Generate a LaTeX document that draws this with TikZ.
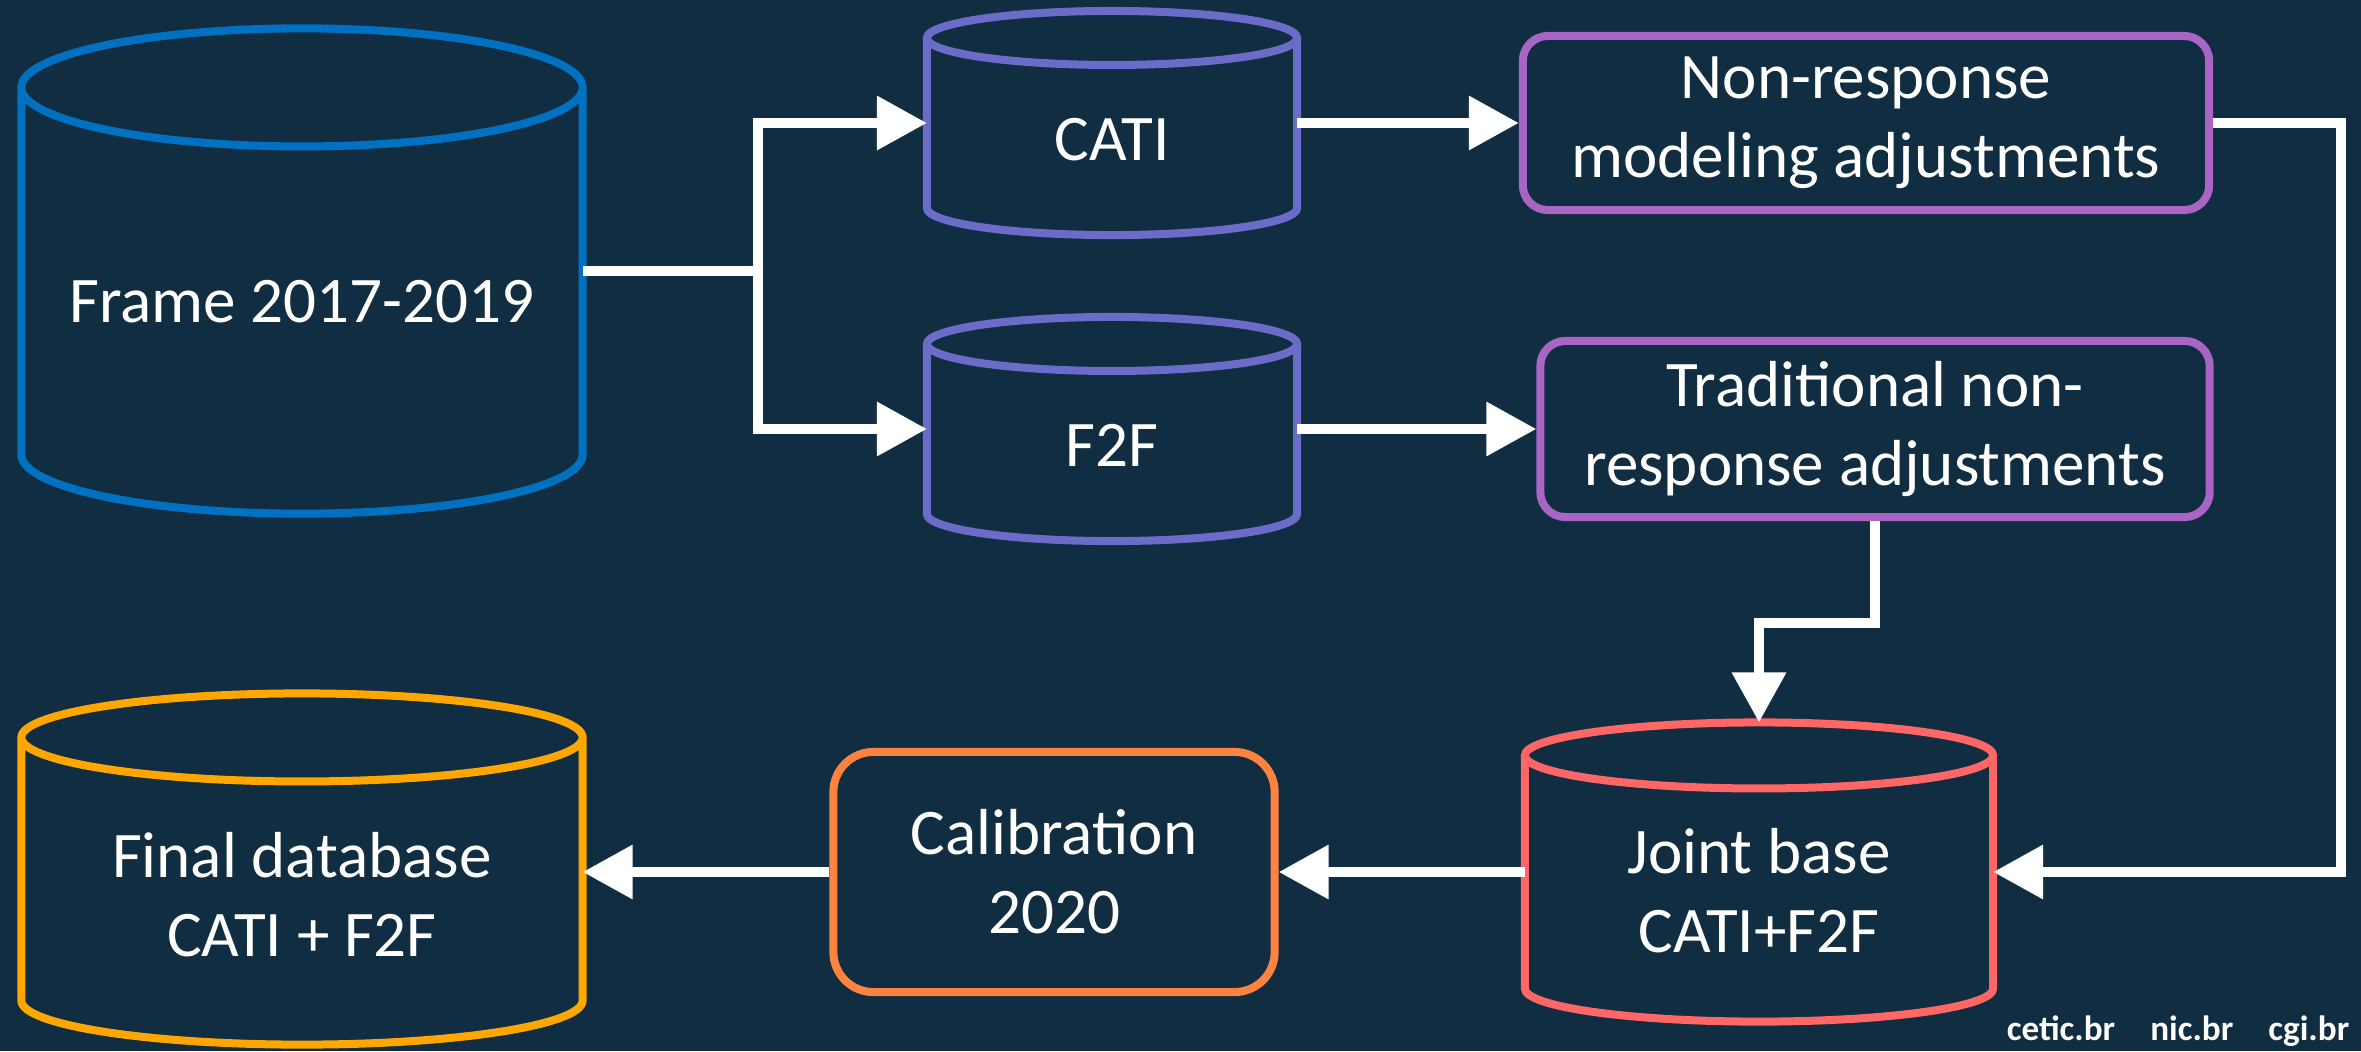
\documentclass[tikz,border=0pt]{standalone}
\usepackage{fontspec}
\setmainfont{Carlito}
\usetikzlibrary{shapes.geometric, arrows.meta, positioning, calc}
\definecolor{bgnavy}{HTML}{112D42}
\definecolor{frameblue}{HTML}{0070C0}
\definecolor{modeblue}{HTML}{6B6BC8}
\definecolor{adjpurple}{HTML}{A865C4}
\definecolor{jointred}{HTML}{FF6666}
\definecolor{calorange}{HTML}{FF8340}
\definecolor{finalamber}{HTML}{FFA600}

\begin{document}
\begin{tikzpicture}[x=0.01cm, y=-0.01cm,
    >={Triangle[length=0.5cm, width=0.52cm]},
    txt/.style={text=white, font=\fontsize{18.5}{22.5}\selectfont, align=center},
    dbbody/.style={rectangle, inner sep=0pt, outer sep=0pt},
    dbline/.style={line width=0.08cm},
    stepbox/.style={txt, rectangle, rounded corners=0.25cm, draw=#1, line width=0.08cm, inner sep=0pt},
    flow/.style={draw=white, line width=0.1cm}]
  \useasboundingbox (0,0) rectangle (2361,1051);
  \fill[bgnavy] (0,0) rectangle (2361,1051);

  % databases (body between the two end ellipses)
  \node[dbbody, minimum width=5.61cm, minimum height=3.67cm] (frame) at (302,271) {};
  \node[txt] (frametxt) at ([yshift=-0.31cm]frame.center) {Frame 2017-2019};
  \draw[dbline, frameblue] (frame.north) ellipse [x radius=2.805cm, y radius=0.59cm]
    (frame.north west) -- (frame.south west) arc [start angle=180, end angle=360, x radius=2.805cm, y radius=0.59cm] -- (frame.north east);

  \node[dbbody, minimum width=3.70cm, minimum height=1.70cm] (cati) at (1112,123) {};
  \node[txt] (catitxt) at ([yshift=-0.17cm]cati.center) {CATI};
  \draw[dbline, modeblue] (cati.north) ellipse [x radius=1.85cm, y radius=0.27cm]
    (cati.north west) -- (cati.south west) arc [start angle=180, end angle=360, x radius=1.85cm, y radius=0.27cm] -- (cati.north east);

  \node[dbbody, minimum width=3.70cm, minimum height=1.70cm] (f2f) at (1112,429) {};
  \node[txt] (f2ftxt) at ([yshift=-0.16cm]f2f.center) {F2F};
  \draw[dbline, modeblue] (f2f.north) ellipse [x radius=1.85cm, y radius=0.27cm]
    (f2f.north west) -- (f2f.south west) arc [start angle=180, end angle=360, x radius=1.85cm, y radius=0.27cm] -- (f2f.north east);

  \node[dbbody, minimum width=4.68cm, minimum height=2.33cm] (joint) at (1759,872) {};
  \node[txt] (jointtxt) at ([yshift=-0.19cm]joint.center) {Joint base\\CATI+F2F};
  \draw[dbline, jointred] (joint.north) ellipse [x radius=2.34cm, y radius=0.33cm]
    (joint.north west) -- (joint.south west) arc [start angle=180, end angle=360, x radius=2.34cm, y radius=0.33cm] -- (joint.north east);

  \node[dbbody, minimum width=5.61cm, minimum height=2.63cm] (final) at (302,869) {};
  \node[txt] (finaltxt) at ([yshift=-0.26cm]final.center) {Final database\\CATI + F2F};
  \draw[dbline, finalamber] (final.north) ellipse [x radius=2.805cm, y radius=0.44cm]
    (final.north west) -- (final.south west) arc [start angle=180, end angle=360, x radius=2.805cm, y radius=0.44cm] -- (final.north east);

  % adjustment steps
  \node[stepbox=adjpurple, minimum width=6.86cm, minimum height=1.74cm] (nrmodel) at (1866,123) {Non-response\\modeling adjustments};
  \node[stepbox=adjpurple, minimum width=6.69cm, minimum height=1.76cm] (nrtrad) at (1875,429) {Traditional non-\\response adjustments};
  \node[stepbox=calorange, rounded corners=0.4cm, minimum width=4.41cm, minimum height=2.40cm] (calib) at (1054,872) {Calibration\\2020};

  % connectors
  \coordinate (fork) at (758,271);
  \draw[flow] (frame.east) -- (fork);
  \draw[flow, ->] (fork) |- (cati.west);
  \draw[flow, ->] (fork) |- (f2f.west);
  \draw[flow, ->] (cati.east) -- (nrmodel.west);
  \draw[flow, ->] (f2f.east) -- (nrtrad.west);
  \draw[flow, ->] (nrmodel.east) -- ++(128,0) |- (joint.east);
  \draw[flow, ->] (nrtrad.south) -- ++(0,102) -| ([yshift=0.33cm]joint.north);
  \draw[flow, ->] (joint.west) -- (calib.east);
  \draw[flow, ->] (calib.west) -- (final.east |- calib.west);

  \node[anchor=base east, text=white, font=\bfseries\fontsize{10}{12}\selectfont, inner sep=0pt] (brand) at (2350,1040) {cetic.br\quad nic.br\quad cgi.br};
\end{tikzpicture}
\end{document}
